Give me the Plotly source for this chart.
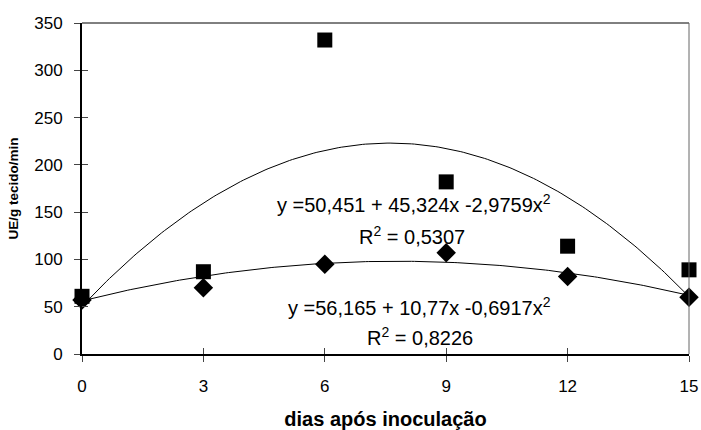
import numpy as np
import plotly.graph_objects as go

dias = [0, 3, 6, 9, 12, 15]
serie_quadrado = [61, 87, 332, 182, 114, 89]
serie_losango = [57, 70, 95, 107, 82, 60]

coef_quadrado = [50.451, 45.324, -2.9759]
coef_losango = [56.165, 10.77, -0.6917]
eq_quadrado = "y =50,451 + 45,324x -2,9759x<sup>2</sup>"
r2_quadrado = "R<sup>2</sup> = 0,5307"
eq_losango = "y =56,165 + 10,77x -0,6917x<sup>2</sup>"
r2_losango = "R<sup>2</sup> = 0,8226"

x_ticks = [0, 3, 6, 9, 12, 15]
y_ticks = [0, 50, 100, 150, 200, 250, 300, 350]

xs = np.linspace(0, 15, 200)
def poly(c, x):
    return c[0] + c[1] * x + c[2] * x ** 2

FONT = "Liberation Sans, Arial, sans-serif"

fig = go.Figure()
fig.add_trace(go.Scatter(x=xs, y=poly(coef_quadrado, xs), mode="lines",
                         line=dict(color="black", width=1), showlegend=False, hoverinfo="skip"))
fig.add_trace(go.Scatter(x=xs, y=poly(coef_losango, xs), mode="lines",
                         line=dict(color="black", width=1), showlegend=False, hoverinfo="skip"))
fig.add_trace(go.Scatter(x=dias, y=serie_losango, mode="markers",
                         marker=dict(symbol="diamond", size=15, color="black"), showlegend=False, cliponaxis=False))
fig.add_trace(go.Scatter(x=dias, y=serie_quadrado, mode="markers",
                         marker=dict(symbol="square", size=15, color="black"), showlegend=False, cliponaxis=False))

txt = dict(showarrow=False, xref="x", yref="y", font=dict(family=FONT, size=20, color="black"))
fig.add_annotation(x=8.2, y=159.5, text=eq_quadrado, **txt)
fig.add_annotation(x=8.15, y=125.5, text=r2_quadrado, **txt)
fig.add_annotation(x=8.35, y=50, text=eq_losango, **txt)
fig.add_annotation(x=8.35, y=18, text=r2_losango, **txt)

# top and right borders
fig.add_shape(type="line", xref="paper", yref="paper", x0=0, x1=1, y0=1, y1=1,
              line=dict(color="black", width=1))
fig.add_shape(type="line", xref="paper", yref="paper", x0=1, x1=1, y0=0, y1=1,
              line=dict(color="#666", width=1))

fig.update_layout(
    width=701, height=430,
    margin=dict(l=82, r=12, t=23, b=76, autoexpand=False),
    paper_bgcolor="white", plot_bgcolor="white",
    font=dict(family=FONT, color="black"),
    xaxis=dict(range=[0, 15], tickvals=x_ticks, ticktext=[str(v) for v in x_ticks],
               showgrid=False, zeroline=False, showline=True, linecolor="black", linewidth=2,
               ticks="outside", ticklen=6, tickcolor="#444", tickwidth=1,
               tickfont=dict(size=17, family=FONT), ticklabelstandoff=10,
               title=dict(text="<b>dias após inoculação</b>", font=dict(size=20, family=FONT), standoff=24)),
    yaxis=dict(range=[0, 350], tickvals=y_ticks, ticktext=[str(v) for v in y_ticks],
               showgrid=False, zeroline=False, showline=True, linecolor="black", linewidth=2,
               ticks="outside", ticklen=6, tickcolor="#444", tickwidth=1,
               tickfont=dict(size=17, family=FONT), ticklabelstandoff=8,
               title=dict(text="<b>UE/g tecido/min</b>", font=dict(size=13.5, family=FONT), standoff=12)),
    xaxis2=dict(range=[0, 15], tickvals=x_ticks, overlaying="x", side="bottom", showticklabels=False,
                showgrid=False, zeroline=False, showline=False, ticks="inside", ticklen=6,
                tickcolor="#444", tickwidth=1),
    yaxis2=dict(range=[0, 350], tickvals=y_ticks, overlaying="y", side="left", showticklabels=False,
                showgrid=False, zeroline=False, showline=False, ticks="inside", ticklen=6,
                tickcolor="#444", tickwidth=1),
)
fig.add_trace(go.Scatter(x=[0], y=[0], xaxis="x2", yaxis="y2", mode="markers",
                         marker=dict(opacity=0), showlegend=False, hoverinfo="skip"))

fig.write_html("out.html", config={"displayModeBar": False},
               post_script="document.body.style.margin='0px';document.body.style.overflow='hidden';")
